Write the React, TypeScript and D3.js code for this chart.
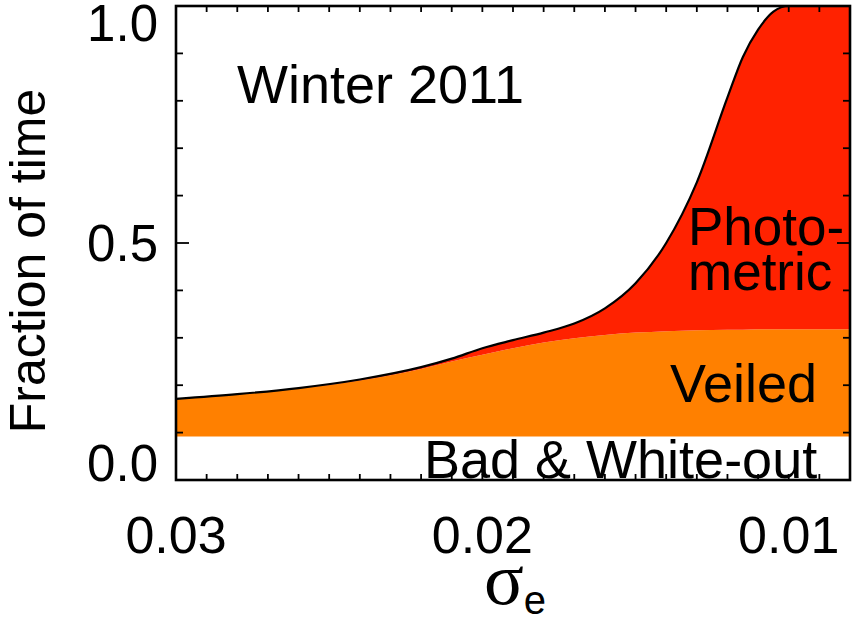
import * as d3 from "d3";

const W = 854;
const H = 625;
const M = { top: 6, right: 4, bottom: 145, left: 176 };

// σ_e thresholds (axis runs from large to small)
const SIGMA = [
  0.03, 0.028, 0.026, 0.024, 0.022, 0.021, 0.02, 0.019, 0.018, 0.017, 0.016,
  0.015, 0.014, 0.013, 0.012, 0.0115, 0.011, 0.0105, 0.01, 0.009, 0.008,
];
// fraction of time per class
const BAD = [
  0.092, 0.092, 0.092, 0.092, 0.092, 0.092, 0.092, 0.092, 0.092, 0.092, 0.092,
  0.092, 0.092, 0.092, 0.092, 0.092, 0.092, 0.092, 0.092, 0.092, 0.092,
];
const VEILED = [
  0.079, 0.089, 0.101, 0.118, 0.142, 0.158, 0.172, 0.186, 0.198, 0.207, 0.214,
  0.219, 0.222, 0.224, 0.225, 0.225, 0.226, 0.226, 0.226, 0.226, 0.226,
];
const PHOTOMETRIC = [
  0, 0, 0.001, 0.002, 0.004, 0.006, 0.014, 0.017, 0.021, 0.031, 0.056, 0.104,
  0.186, 0.312, 0.49, 0.575, 0.632, 0.67, 0.682, 0.682, 0.682,
];

const X_LABELS = [0.03, 0.02, 0.01];
const Y_LABELS = [0, 0.5, 1.0];

const FONT = "'Liberation Sans', Arial, Helvetica, sans-serif";
const ORANGE = "#ff8000";
const RED = "#ff2200";

export default function App() {
  const innerW = W - M.left - M.right;
  const innerH = H - M.top - M.bottom;
  const x0 = M.left;
  const x1 = M.left + innerW;
  const y0 = M.top + innerH;
  const yTop = M.top;

  const x = d3.scaleLinear().domain([0.03, 0.008]).range([x0, x1]);
  const y = d3.scaleLinear().domain([0, 1]).range([y0, yTop]);

  const rows = SIGMA.map((s, i) => ({
    sigma: s,
    bad: BAD[i],
    veiled: VEILED[i],
    photometric: PHOTOMETRIC[i],
  }));
  const series = d3.stack<any>().keys(["bad", "veiled", "photometric"])(rows);

  const area = d3
    .area<any>()
    .x((d) => x(d.data.sigma))
    .y0((d) => y(d[0]))
    .y1((d) => y(d[1]))
    .curve(d3.curveMonotoneX);
  const topLine = d3
    .line<any>()
    .x((d) => x(d.data.sigma))
    .y((d) => y(d[1]))
    .curve(d3.curveMonotoneX);

  const xMinor = d3.range(8, 31).map((v) => v / 1000);
  const yMinor = d3.range(0, 11).map((v) => v / 10);

  // IDL-style label placement: keep the end labels inside the frame height
  const yLabelBase = (t: number) =>
    Math.max(yTop + 35, Math.min(y0 + 1, y(t) + 18));

  return (
    <svg
      width={W}
      height={H}
      style={{ position: "absolute", left: 0, top: 0, background: "#fff" }}
      fontFamily={FONT}
    >
      {/* stacked areas */}
      <path d={area(series[1]) ?? ""} fill={ORANGE} />
      <path d={area(series[2]) ?? ""} fill={RED} />
      <path d={topLine(series[2]) ?? ""} fill="none" stroke="#000" strokeWidth={2.2} />

      {/* frame */}
      <rect
        x={x0}
        y={yTop}
        width={innerW}
        height={innerH}
        fill="none"
        stroke="#000"
        strokeWidth={2.6}
      />

      {/* x ticks, bottom and top */}
      {xMinor.map((t) => (
        <g key={`xt-${t}`}>
          <line x1={x(t)} x2={x(t)} y1={y0} y2={y0 - 6} stroke="#000" strokeWidth={1.8} />
          <line x1={x(t)} x2={x(t)} y1={yTop} y2={yTop + 6} stroke="#000" strokeWidth={1.8} />
        </g>
      ))}
      {/* y ticks, left and right */}
      {yMinor.map((t) => {
        const len = Math.abs(t * 2 - Math.round(t * 2)) < 1e-6 ? 13 : 7;
        return (
          <g key={`yt-${t}`}>
            <line x1={x0} x2={x0 + len} y1={y(t)} y2={y(t)} stroke="#000" strokeWidth={1.8} />
            <line x1={x1} x2={x1 - len} y1={y(t)} y2={y(t)} stroke="#000" strokeWidth={1.8} />
          </g>
        );
      })}

      {/* tick labels */}
      {X_LABELS.map((t) => (
        <text key={`xl-${t}`} x={x(t)} y={553} fontSize={52} textAnchor="middle">
          {t.toFixed(2)}
        </text>
      ))}
      {Y_LABELS.map((t) => (
        <text key={`yl-${t}`} x={x0 - 18} y={yLabelBase(t)} fontSize={51} textAnchor="end">
          {t.toFixed(1)}
        </text>
      ))}

      {/* axis titles */}
      <text
        transform={`translate(45,${(yTop + y0) / 2 + 18}) rotate(-90)`}
        fontSize={50}
        textAnchor="middle"
      >
        Fraction of time
      </text>
      <text
        x={(x0 + x1) / 2 + 2}
        y={604}
        textAnchor="middle"
      >
        <tspan fontSize={74} fontFamily="'Liberation Serif', 'DejaVu Serif', serif">
          σ
        </tspan>
        <tspan fontSize={40} dy={10}>
          e
        </tspan>
      </text>

      {/* annotations */}
      <text x={237} y={103} fontSize={54}>
        Winter 2011
      </text>
      <text x={688} y={245} fontSize={53}>
        Photo-
      </text>
      <text x={688} y={290} fontSize={53}>
        metric
      </text>
      <text x={670} y={402} fontSize={54}>
        Veiled
      </text>
      <text x={424} y={478} fontSize={54}>
        Bad &amp; White-out
      </text>
    </svg>
  );
}
